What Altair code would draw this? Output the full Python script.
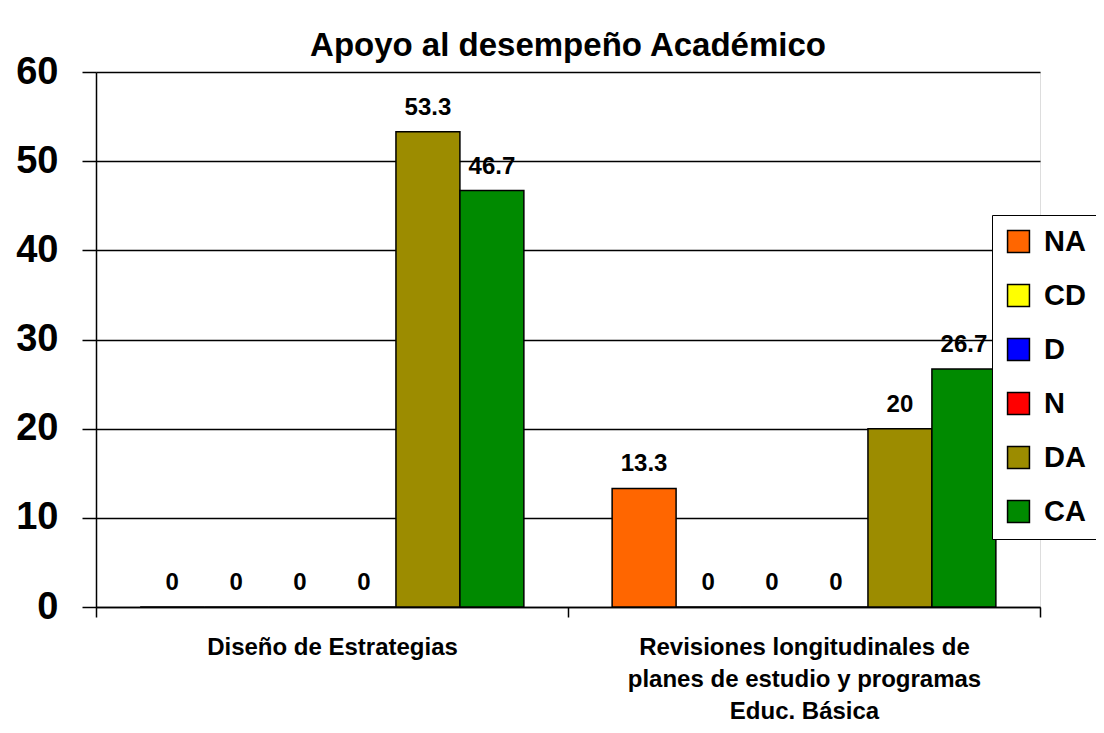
import json
import altair as alt
import pandas as pd

categories = ["Diseño de Estrategias",
              "Revisiones longitudinales de planes de estudio y programas Educ. Básica"]
category_lines = [["Diseño de Estrategias"],
                  ["Revisiones longitudinales de", "planes de estudio y programas", "Educ. Básica"]]
series = ["NA", "CD", "D", "N", "DA", "CA"]
colors = ["#FF6600", "#FFFF00", "#0000FF", "#FF0000", "#9C8C00", "#008A00"]
values_cat1 = [0, 0, 0, 0, 53.3, 46.7]
values_cat2 = [13.3, 0, 0, 0, 20, 26.7]
y_ticks = [0, 10, 20, 30, 40, 50, 60]

rows = []
for cat, vals in zip(categories, [values_cat1, values_cat2]):
    for s, v in zip(series, vals):
        rows.append({"cat": cat, "serie": s, "valor": v, "etiqueta": ("%g" % v)})
df = pd.DataFrame(rows)

label_expr = ("datum.value == " + json.dumps(categories[0]) + " ? " + json.dumps(category_lines[0]) +
              " : datum.value == " + json.dumps(categories[1]) + " ? " + json.dumps(category_lines[1]) +
              " : ''")

FONT = "Liberation Sans"

x_scale = alt.Scale(paddingInner=0, paddingOuter=0)
x_axis = alt.Axis(labelAngle=0, labelExpr=label_expr, tickBand="extent", labelLimit=0,
                  labelFont=FONT, labelFontSize=24, labelFontWeight="bold",
                  labelColor="black", labelLineHeight=32, labelPadding=18,
                  tickSize=10, tickColor="black", tickWidth=1.5,
                  domainColor="black", domainWidth=1.5, grid=False)
x = alt.X("cat:N", sort=categories, title=None, scale=x_scale, axis=x_axis)
xo = alt.XOffset("serie:N", sort=series, scale=alt.Scale(paddingInner=0, paddingOuter=0.69))
y_scale = alt.Scale(domain=[0, 60], nice=False)
y_axis = alt.Axis(values=y_ticks, labelFont=FONT, labelFontSize=38, labelFontWeight="bold",
                  labelColor="black", labelPadding=24, tickSize=14, tickColor="black",
                  tickWidth=1.5, domainColor="black", domainWidth=1.5,
                  grid=True, gridColor="black", gridWidth=1.5)
y = alt.Y("valor:Q", title=None, scale=y_scale, axis=y_axis)

color = alt.Color("serie:N", sort=series,
                  scale=alt.Scale(domain=series, range=colors),
                  legend=alt.Legend(title=None, orient="none", legendX=896, legendY=143,
                                    symbolType="square", symbolSize=480,
                                    symbolStrokeColor="black", symbolStrokeWidth=1.5,
                                    labelFont=FONT, labelFontSize=29, labelFontWeight="bold",
                                    labelColor="black", labelOffset=11, rowPadding=24,
                                    padding=12, strokeColor="black", fillColor="white"))

bars = alt.Chart(df).mark_bar(stroke="black", strokeWidth=1.5, opacity=1).encode(
    x=x, xOffset=xo, y=y, color=color)

labels = alt.Chart(df).mark_text(font=FONT, fontSize=24, fontWeight="bold", color="black",
                                 baseline="bottom", dy=-12).encode(
    x=alt.X("cat:N", sort=categories, title=None, scale=x_scale, axis=x_axis),
    xOffset=xo,
    y=alt.Y("valor:Q", title=None, scale=y_scale, axis=y_axis),
    text="etiqueta:N")

chart = alt.layer(bars, labels).properties(
    width=944, height=535,
    title=alt.TitleParams("Apoyo al desempeño Académico", font=FONT, fontSize=33,
                          fontWeight="bold", color="black", anchor="middle", offset=-10),
    autosize=alt.AutoSizeParams(type="none"),
    padding={"left": 88, "top": 64, "right": 56, "bottom": 117},
).configure_view(stroke=None).configure(background="white")

chart.save("out.html", embed_options={"renderer": "svg", "actions": False})
